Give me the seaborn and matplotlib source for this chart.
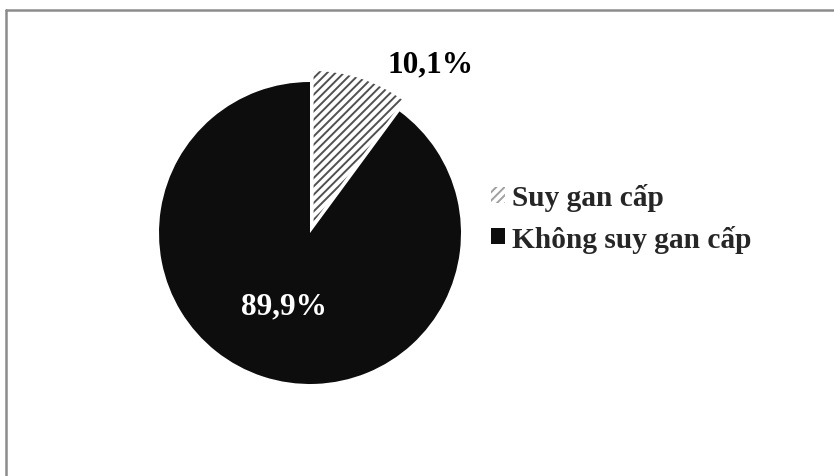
import matplotlib
matplotlib.use("Agg")
import matplotlib.pyplot as plt
import matplotlib.patches as mpatches
from matplotlib.lines import Line2D
import seaborn as sns

# Share of patients with / without acute liver failure
categories = ["Suy gan cấp", "Không suy gan cấp"]
shares = [10.1, 89.9]

sns.set_theme(style="white")
plt.rcParams["font.family"] = ["Liberation Serif", "DejaVu Serif"]
plt.rcParams["hatch.linewidth"] = 1.4

BLACK = "#0d0d0d"
HATCH_EDGE = "#505050"
FS = 22.5
FS_LEG = 21.2

W, H = 834, 477
fig = plt.figure(figsize=(W / 100, H / 100), dpi=100)
fig.patch.set_facecolor("white")

# axes centred on the pie, 350 px square
cx, cy, half = 310, 234, 175
ax = fig.add_axes([(cx - half) / W, (H - cy - half) / H, 2 * half / W, 2 * half / H])
lim = half / 151
wedges, _ = ax.pie(
    shares,
    startangle=90,
    counterclock=False,
    explode=[0.076, 0],
    colors=["white", BLACK],
    wedgeprops=dict(linewidth=0),
)
wedges[0].set_hatch("////")
wedges[0].set_edgecolor(HATCH_EDGE)
wedges[0].set_linewidth(0)
ax.set_xlim(-lim, lim)
ax.set_ylim(-lim, lim)
ax.set_aspect("equal")
ax.axis("off")


def pct(v):
    return f"{v:.1f}".replace(".", ",") + "%"


ax.text(0.80, 1.12, pct(shares[0]), ha="center", va="center",
        fontsize=FS, fontweight="bold", color="black")
ax.text(-0.17, -0.48, pct(shares[1]), ha="center", va="center",
        fontsize=FS, fontweight="bold", color="white")

handles = [
    mpatches.Patch(facecolor="white", edgecolor="#a0a0a0", hatch="////", linewidth=0),
    mpatches.Patch(facecolor=BLACK, edgecolor=BLACK, linewidth=0),
]
leg = fig.legend(
    handles, categories,
    loc="center left",
    bbox_to_anchor=(491 / W, (H - 219) / H),
    frameon=False,
    prop=dict(family="Liberation Serif", weight="bold", size=FS_LEG),
    handlelength=0.48, handleheight=0.48, handletextpad=0.22,
    labelspacing=0.45, borderpad=0, borderaxespad=0,
)

# outer frame (top and left edges)
frame_kw = dict(color="#8c8c8c", linewidth=1.8, transform=fig.transFigure)
fig.add_artist(Line2D([6 / W, 1.0], [(H - 11) / H, (H - 11) / H], **frame_kw))
fig.add_artist(Line2D([6 / W, 6 / W], [0, (H - 11) / H], **frame_kw))

fig.savefig("out.png", dpi=100, facecolor="white")
